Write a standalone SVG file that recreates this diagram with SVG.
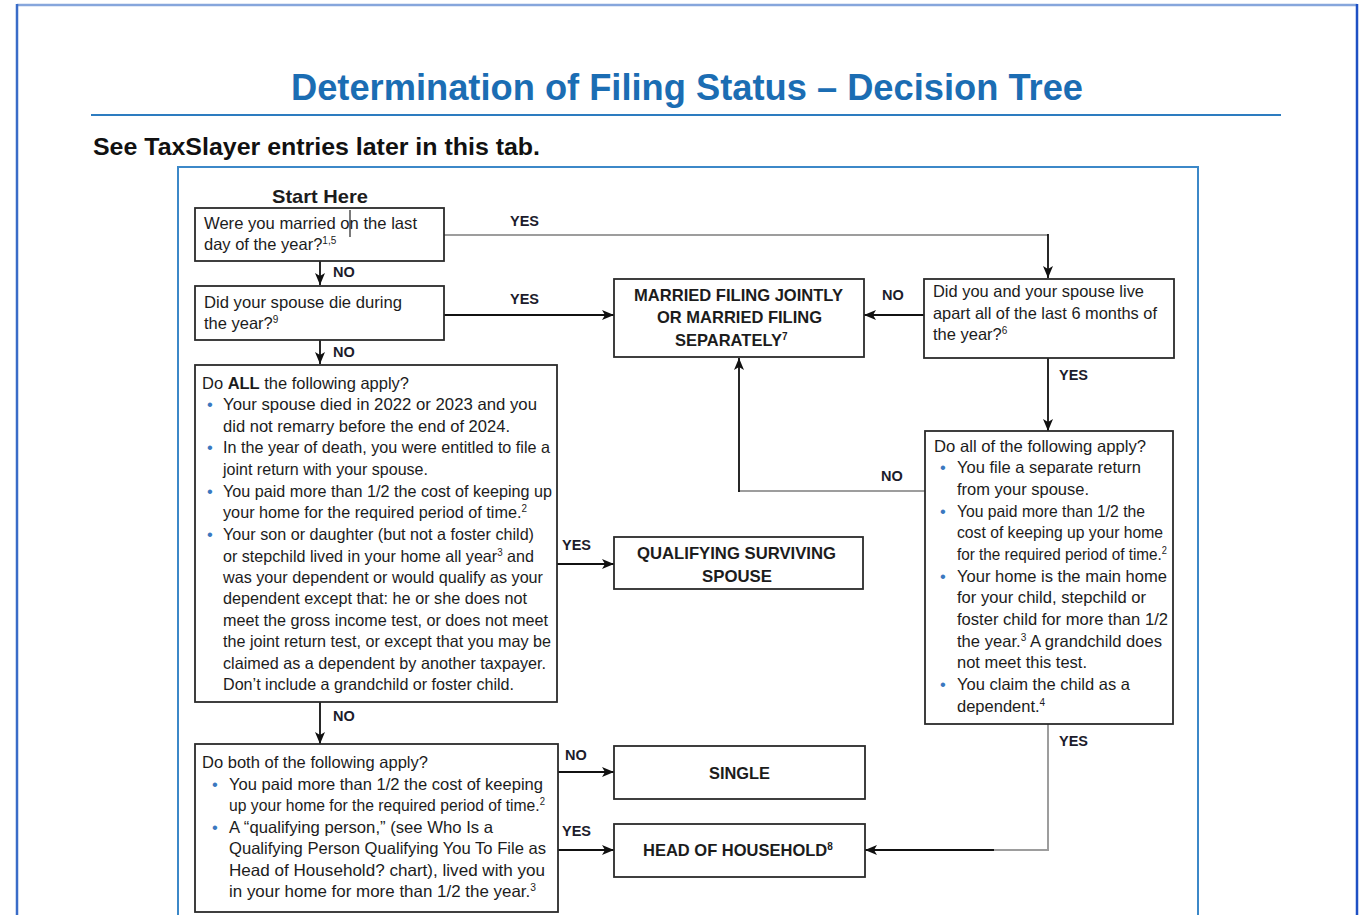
<svg xmlns="http://www.w3.org/2000/svg" width="1360" height="915" viewBox="0 0 1360 915">
<style>
.box{fill:#fff;stroke:#2b2b2b;stroke-width:1.8}
.t{font-family:"Liberation Sans",Arial,sans-serif;font-size:16.5px;fill:#1c1c1c}
.h{font-family:"Liberation Sans",Arial,sans-serif;font-size:16.5px;font-weight:bold;fill:#1c1c1c}
.lbl{font-family:"Liberation Sans",Arial,sans-serif;font-size:14.5px;font-weight:bold;fill:#1c1c2c}
.bul{font-family:"Liberation Sans",Arial,sans-serif;font-size:16.5px;fill:#3a78c0}
.c{stroke:#111;stroke-width:1.8;fill:none}
.g{stroke:#9d9d9d;stroke-width:2;fill:none}
.sup{font-size:10px}
</style>
<defs>
<marker id="arr" viewBox="0 0 12 10" refX="12" refY="5" markerWidth="12" markerHeight="10" markerUnits="userSpaceOnUse" orient="auto">
<path d="M0,0 L12,5 L0,10 L3,5 z" fill="#111"/>
</marker>
</defs>
<rect width="1360" height="915" fill="#fff"/>
<g id="frame">
<line x1="17" y1="5" x2="1357" y2="5" stroke="#86a6dc" stroke-width="2.5"/>
<line x1="17" y1="4" x2="17" y2="915" stroke="#3a6cc8" stroke-width="2.5"/>
<line x1="1357" y1="4" x2="1357" y2="915" stroke="#1e50c4" stroke-width="2.5"/>
<text x="291" y="100" textLength="792" lengthAdjust="spacingAndGlyphs" style="font-family:'Liberation Sans',Arial,sans-serif;font-size:36px;font-weight:bold;fill:#1b6db3">Determination of Filing Status – Decision Tree</text>
<line x1="91" y1="115" x2="1281" y2="115" stroke="#2d7cc0" stroke-width="2"/>
<text x="93" y="155" textLength="447" lengthAdjust="spacingAndGlyphs" style="font-family:'Liberation Sans',Arial,sans-serif;font-size:23px;font-weight:bold;fill:#111">See TaxSlayer entries later in this tab.</text>
<path d="M178,920 V167 H1198 V920" fill="none" stroke="#3c88c8" stroke-width="2"/>
<text x="272" y="203" textLength="96" lengthAdjust="spacingAndGlyphs" style="font-family:'Liberation Sans',Arial,sans-serif;font-size:19px;font-weight:bold;fill:#1c1c1c">Start Here</text>
</g>
<g id="connectors">
<line class="g" x1="444" y1="235" x2="1048" y2="235"/>
<line class="c" x1="1048" y1="234" x2="1048" y2="278" marker-end="url(#arr)"/>
<line class="c" x1="320" y1="261" x2="320" y2="285" marker-end="url(#arr)"/>
<line class="c" x1="444" y1="315" x2="614" y2="315" marker-end="url(#arr)"/>
<line class="c" x1="320" y1="340" x2="320" y2="364" marker-end="url(#arr)"/>
<line class="c" x1="924" y1="315" x2="864" y2="315" marker-end="url(#arr)"/>
<line class="c" x1="1048" y1="358" x2="1048" y2="431" marker-end="url(#arr)"/>
<line class="g" x1="925" y1="491" x2="738" y2="491"/>
<line class="c" x1="739" y1="492" x2="739" y2="358" marker-end="url(#arr)"/>
<line class="c" x1="557" y1="564" x2="614" y2="564" marker-end="url(#arr)"/>
<line class="c" x1="320" y1="702" x2="320" y2="744" stroke-width="3" marker-end="url(#arr)"/>
<line class="c" x1="558" y1="772" x2="614" y2="772" marker-end="url(#arr)"/>
<line class="c" x1="558" y1="850" x2="614" y2="850" marker-end="url(#arr)"/>
<polyline class="g" points="1048,724 1048,850 993,850"/>
<line class="c" x1="994" y1="850" x2="865" y2="850" marker-end="url(#arr)"/>
<text class="lbl" x="510" y="226">YES</text>
<text class="lbl" x="333" y="277">NO</text>
<text class="lbl" x="510" y="304">YES</text>
<text class="lbl" x="333" y="357">NO</text>
<text class="lbl" x="882" y="300">NO</text>
<text class="lbl" x="1059" y="380">YES</text>
<text class="lbl" x="881" y="481">NO</text>
<text class="lbl" x="562" y="550">YES</text>
<text class="lbl" x="333" y="721">NO</text>
<text class="lbl" x="565" y="760">NO</text>
<text class="lbl" x="562" y="836">YES</text>
<text class="lbl" x="1059" y="746">YES</text>
</g>
<g id="q-married">
<rect class="box" x="195" y="208" width="249" height="53"/>
<text class="t" x="204" y="229" textLength="213" lengthAdjust="spacingAndGlyphs">Were you married on the last</text>
<text class="t" x="204" y="250">day of the year?<tspan class="sup" dy="-6">1,5</tspan></text>
<line x1="350" y1="210" x2="350" y2="237" stroke="#222" stroke-width="1.2"/>
</g>
<g id="q-spouse-die">
<rect class="box" x="195" y="286" width="249" height="54"/>
<text class="t" x="204" y="308" textLength="198" lengthAdjust="spacingAndGlyphs">Did your spouse die during</text>
<text class="t" x="204" y="329">the year?<tspan class="sup" dy="-6">9</tspan></text>
</g>
<g id="r-mfj">
<rect class="box" x="614" y="279" width="250" height="78"/>
<text class="h" x="634" y="301" textLength="209" lengthAdjust="spacingAndGlyphs">MARRIED FILING JOINTLY</text>
<text class="h" x="657" y="323" textLength="165" lengthAdjust="spacingAndGlyphs">OR MARRIED FILING</text>
<text class="h" x="675" y="346">SEPARATELY<tspan class="sup" dy="-6">7</tspan></text>
</g>
<g id="q-live-apart">
<rect class="box" x="924" y="279" width="250" height="79"/>
<text class="t" x="933" y="297" textLength="211" lengthAdjust="spacingAndGlyphs">Did you and your spouse live</text>
<text class="t" x="933" y="319" textLength="224" lengthAdjust="spacingAndGlyphs">apart all of the last 6 months of</text>
<text class="t" x="933" y="340">the year?<tspan class="sup" dy="-6">6</tspan></text>
</g>
<g id="q-qss">
<rect class="box" x="195" y="365" width="362" height="337"/>
<text class="t" x="202" y="389" textLength="207" lengthAdjust="spacingAndGlyphs">Do <tspan font-weight="bold">ALL</tspan> the following apply?</text>
<text class="bul" x="207" y="410">•</text>
<text class="t" x="223" y="410" textLength="314" lengthAdjust="spacingAndGlyphs">Your spouse died in 2022 or 2023 and you</text>
<text class="t" x="223" y="432" textLength="287" lengthAdjust="spacingAndGlyphs">did not remarry before the end of 2024.</text>
<text class="bul" x="207" y="453">•</text>
<text class="t" x="223" y="453" textLength="327" lengthAdjust="spacingAndGlyphs">In the year of death, you were entitled to file a</text>
<text class="t" x="223" y="475" textLength="205" lengthAdjust="spacingAndGlyphs">joint return with your spouse.</text>
<text class="bul" x="207" y="497">•</text>
<text class="t" x="223" y="497" textLength="329" lengthAdjust="spacingAndGlyphs">You paid more than 1/2 the cost of keeping up</text>
<text class="t" x="223" y="518" textLength="304" lengthAdjust="spacingAndGlyphs">your home for the required period of time.<tspan class="sup" dy="-6">2</tspan></text>
<text class="bul" x="207" y="540">•</text>
<text class="t" x="223" y="540" textLength="311" lengthAdjust="spacingAndGlyphs">Your son or daughter (but not a foster child)</text>
<text class="t" x="223" y="562" textLength="311" lengthAdjust="spacingAndGlyphs">or stepchild lived in your home all year<tspan class="sup" dy="-6">3</tspan><tspan dy="6"> and</tspan></text>
<text class="t" x="223" y="583" textLength="320" lengthAdjust="spacingAndGlyphs">was your dependent or would qualify as your</text>
<text class="t" x="223" y="604" textLength="304" lengthAdjust="spacingAndGlyphs">dependent except that: he or she does not</text>
<text class="t" x="223" y="626" textLength="325" lengthAdjust="spacingAndGlyphs">meet the gross income test, or does not meet</text>
<text class="t" x="223" y="647" textLength="328" lengthAdjust="spacingAndGlyphs">the joint return test, or except that you may be</text>
<text class="t" x="223" y="669" textLength="323" lengthAdjust="spacingAndGlyphs">claimed as a dependent by another taxpayer.</text>
<text class="t" x="223" y="690" textLength="291" lengthAdjust="spacingAndGlyphs">Don’t include a grandchild or foster child.</text>
</g>
<g id="r-qss">
<rect class="box" x="614" y="537" width="249" height="52"/>
<text class="h" x="637" y="559" textLength="199" lengthAdjust="spacingAndGlyphs">QUALIFYING SURVIVING</text>
<text class="h" x="702" y="582" textLength="70" lengthAdjust="spacingAndGlyphs">SPOUSE</text>
</g>
<g id="q-hoh-married">
<rect class="box" x="925" y="431" width="248" height="293"/>
<text class="t" x="934" y="452" textLength="212" lengthAdjust="spacingAndGlyphs">Do all of the following apply?</text>
<text class="bul" x="940" y="473">•</text>
<text class="t" x="957" y="473" textLength="184" lengthAdjust="spacingAndGlyphs">You file a separate return</text>
<text class="t" x="957" y="495" textLength="132" lengthAdjust="spacingAndGlyphs">from your spouse.</text>
<text class="bul" x="940" y="517">•</text>
<text class="t" x="957" y="517" textLength="188" lengthAdjust="spacingAndGlyphs">You paid more than 1/2 the</text>
<text class="t" x="957" y="538" textLength="206" lengthAdjust="spacingAndGlyphs">cost of keeping up your home</text>
<text class="t" x="957" y="560" textLength="210" lengthAdjust="spacingAndGlyphs">for the required period of time.<tspan class="sup" dy="-6">2</tspan></text>
<text class="bul" x="940" y="582">•</text>
<text class="t" x="957" y="582" textLength="210" lengthAdjust="spacingAndGlyphs">Your home is the main home</text>
<text class="t" x="957" y="603" textLength="189" lengthAdjust="spacingAndGlyphs">for your child, stepchild or</text>
<text class="t" x="957" y="625" textLength="211" lengthAdjust="spacingAndGlyphs">foster child for more than 1/2</text>
<text class="t" x="957" y="647" textLength="205" lengthAdjust="spacingAndGlyphs">the year.<tspan class="sup" dy="-6">3</tspan><tspan dy="6"> A grandchild does</tspan></text>
<text class="t" x="957" y="668" textLength="130" lengthAdjust="spacingAndGlyphs">not meet this test.</text>
<text class="bul" x="940" y="690">•</text>
<text class="t" x="957" y="690" textLength="173" lengthAdjust="spacingAndGlyphs">You claim the child as a</text>
<text class="t" x="957" y="712">dependent.<tspan class="sup" dy="-6">4</tspan></text>
</g>
<g id="q-hoh">
<rect class="box" x="195" y="744" width="363" height="168"/>
<text class="t" x="202" y="768" textLength="226" lengthAdjust="spacingAndGlyphs">Do both of the following apply?</text>
<text class="bul" x="212" y="790">•</text>
<text class="t" x="229" y="790" textLength="314" lengthAdjust="spacingAndGlyphs">You paid more than 1/2 the cost of keeping</text>
<text class="t" x="229" y="811" textLength="316" lengthAdjust="spacingAndGlyphs">up your home for the required period of time.<tspan class="sup" dy="-6">2</tspan></text>
<text class="bul" x="212" y="833">•</text>
<text class="t" x="229" y="833" textLength="264" lengthAdjust="spacingAndGlyphs">A “qualifying person,” (see Who Is a</text>
<text class="t" x="229" y="854" textLength="317" lengthAdjust="spacingAndGlyphs">Qualifying Person Qualifying You To File as</text>
<text class="t" x="229" y="876" textLength="316" lengthAdjust="spacingAndGlyphs">Head of Household? chart), lived with you</text>
<text class="t" x="229" y="897" textLength="307" lengthAdjust="spacingAndGlyphs">in your home for more than 1/2 the year.<tspan class="sup" dy="-6">3</tspan></text>
</g>
<g id="r-single">
<rect class="box" x="614" y="746" width="251" height="53"/>
<text class="h" x="709" y="779" textLength="61" lengthAdjust="spacingAndGlyphs">SINGLE</text>
</g>
<g id="r-hoh">
<rect class="box" x="614" y="824" width="251" height="53"/>
<text class="h" x="643" y="856">HEAD OF HOUSEHOLD<tspan class="sup" dy="-6">8</tspan></text>
</g>
</svg>
